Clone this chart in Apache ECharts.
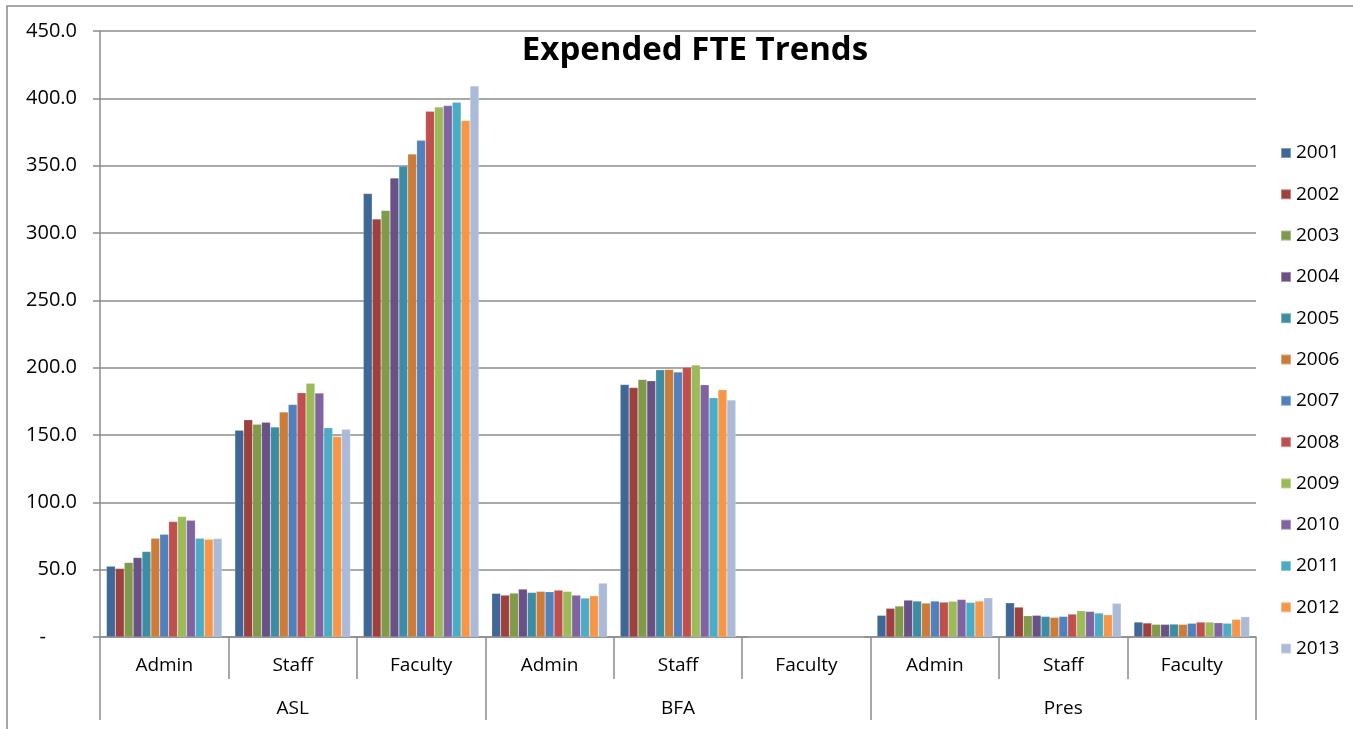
<!DOCTYPE html>
<html>
<head>
<meta charset="utf-8">
<title>Expended FTE Trends</title>
<script src="https://cdn.jsdelivr.net/npm/echarts@6/dist/echarts.min.js"></script>
<style>
  html, body { margin: 0; padding: 0; background: #ffffff; }
  #chart { width: 1353px; height: 729px; }
</style>
</head>
<body>
<div id="chart"></div>
<script>
// categories (sub level + group level)
const subCategories = ['Admin', 'Staff', 'Faculty', 'Admin', 'Staff', 'Faculty', 'Admin', 'Staff', 'Faculty'];
const groups = ['ASL', 'BFA', 'Pres'];
const years = ['2001', '2002', '2003', '2004', '2005', '2006', '2007', '2008', '2009', '2010', '2011', '2012', '2013'];

// values per year, order: ASL Admin/Staff/Faculty, BFA Admin/Staff/Faculty, Pres Admin/Staff/Faculty
const fte2001 = [52.6, 153.6, 329.4, 32.4, 187.5, 0, 16.1, 25.4, 11.1];
const fte2002 = [50.9, 161.3, 310.4, 31.1, 185.3, 0, 21.3, 22.2, 10.4];
const fte2003 = [55.3, 157.9, 316.8, 32.6, 191.3, 0, 23.0, 15.8, 9.4];
const fte2004 = [59.0, 159.4, 340.8, 35.6, 190.3, 0, 27.4, 16.1, 9.4];
const fte2005 = [63.5, 155.9, 349.7, 33.1, 198.4, 0, 26.7, 15.3, 9.6];
const fte2006 = [73.3, 167.0, 358.6, 33.9, 198.7, 0, 25.2, 14.6, 9.4];
const fte2007 = [76.3, 172.7, 368.9, 33.6, 196.7, 0, 26.7, 15.3, 10.2];
const fte2008 = [85.7, 181.4, 390.4, 34.8, 200.4, 0, 25.9, 17.0, 11.1];
const fte2009 = [89.4, 188.5, 393.6, 33.9, 201.9, 0, 26.5, 19.5, 11.1];
const fte2010 = [86.7, 181.1, 394.6, 31.1, 187.3, 0, 27.9, 19.0, 10.6];
const fte2011 = [73.3, 155.4, 397.1, 28.9, 177.7, 0, 25.7, 17.8, 10.2];
const fte2012 = [72.6, 148.8, 383.5, 30.6, 183.6, 0, 26.7, 16.5, 13.1];
const fte2013 = [73.1, 154.2, 409.2, 40.0, 175.9, 0, 29.1, 25.0, 15.1];

const yearValues = [fte2001, fte2002, fte2003, fte2004, fte2005, fte2006, fte2007,
                    fte2008, fte2009, fte2010, fte2011, fte2012, fte2013];

// Excel 2007 style palette
const colors = ['#3F6797', '#9E413E', '#7F9A48', '#695185', '#3C8DA3', '#CC7B38', '#4F81BD',
                '#C0504D', '#9BBB59', '#8064A2', '#4BACC6', '#F79646', '#AABAD7'];

const FONT = '"Open Sans", Lato, sans-serif';
const GRAY = '#8c8c8c';

const chart = echarts.init(document.getElementById('chart'));

const series = years.map((yr, i) => ({
  name: yr,
  type: 'bar',
  xAxisIndex: 0,
  data: yearValues[i],
  barGap: '0%',
  barCategoryGap: '10%',
  itemStyle: { color: colors[i], borderColor: 'rgba(255,255,255,0.35)', borderWidth: 0.5 }
}));

chart.setOption({
  animation: false,
  color: colors,
  textStyle: { fontFamily: FONT },
  title: {
    text: 'Expended FTE Trends',
    left: 690,
    textAlign: 'center',
    top: 29,
    textStyle: { fontFamily: FONT, fontSize: 33, fontWeight: 'bold', color: '#000' }
  },
  graphic: [{
    type: 'rect',
    shape: { x: 7, y: 6, width: 1400, height: 800 },
    style: { fill: 'none', stroke: '#888', lineWidth: 1.5 },
    silent: true,
    z: -10
  }],
  legend: {
    orient: 'vertical',
    left: 1275,
    top: 138,
    itemWidth: 10,
    itemHeight: 10,
    itemGap: 21.3,
    icon: 'rect',
    textStyle: { fontFamily: FONT, fontSize: 19, color: '#000', lineHeight: 20 },
    data: years
  },
  grid: { left: 100, right: 97, top: 31, bottom: 92, containLabel: false },
  xAxis: [
    {
      type: 'category',
      data: subCategories,
      position: 'bottom',
      axisLine: { show: true, lineStyle: { color: GRAY, width: 1.5 } },
      axisTick: { show: true, interval: 0, length: 42, lineStyle: { color: GRAY, width: 1.5 } },
      axisLabel: { interval: 0, margin: 19, fontSize: 19, color: '#000', fontFamily: FONT },
      splitLine: { show: false }
    },
    {
      type: 'category',
      data: groups,
      position: 'bottom',
      axisLine: { show: false },
      axisTick: { show: true, interval: 0, length: 83, lineStyle: { color: GRAY, width: 1.5 } },
      axisLabel: { interval: 0, margin: 62, fontSize: 19, color: '#000', fontFamily: FONT },
      splitLine: { show: false }
    }
  ],
  yAxis: {
    type: 'value',
    min: 0,
    max: 450,
    interval: 50,
    axisLine: { show: true, lineStyle: { color: GRAY, width: 1.5 } },
    axisTick: { show: true, length: 7, lineStyle: { color: GRAY, width: 1.5 } },
    axisLabel: {
      margin: 23,
      fontSize: 20,
      color: '#000',
      fontFamily: FONT,
      formatter: (v) => (v === 0 ? '-      ' : v.toFixed(1))
    },
    splitLine: { show: true, lineStyle: { color: GRAY, width: 1.5 } }
  },
  series: series
});
</script>
</body>
</html>
